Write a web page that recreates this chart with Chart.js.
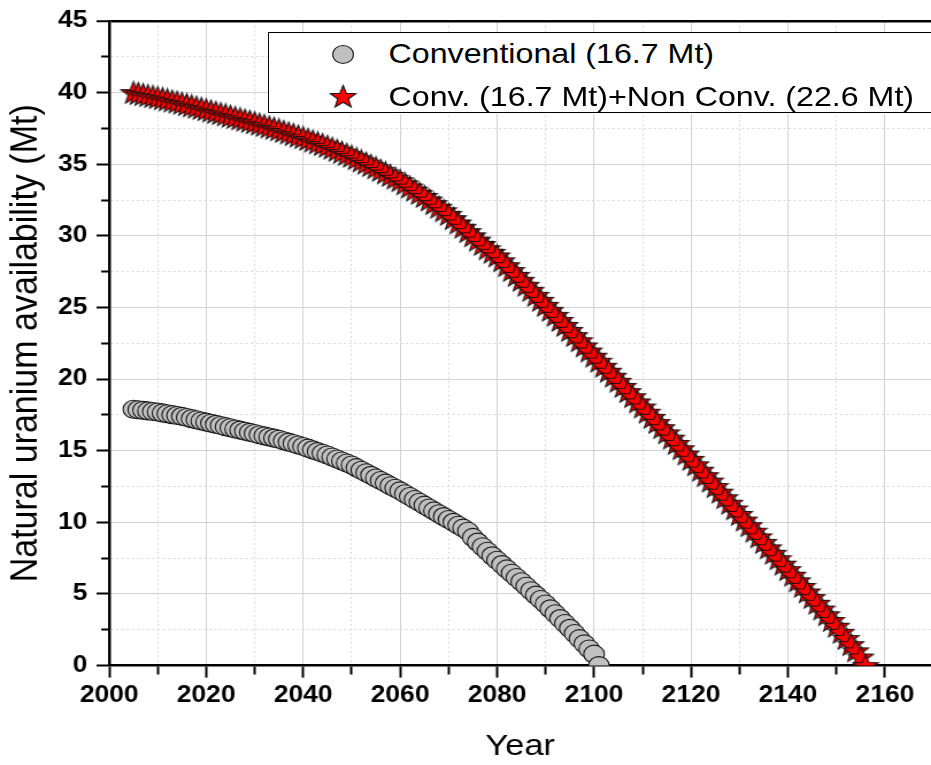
<!DOCTYPE html>
<html>
<head>
<meta charset="utf-8">
<title>Natural uranium availability</title>
<script src="https://cdn.jsdelivr.net/npm/chart.js@4.4.1/dist/chart.umd.min.js"></script>
<style>
  html, body { margin: 0; padding: 0; background: #fff; overflow: hidden; }
  /* the original figure is slightly stretched sideways, so the whole thing is drawn narrower and scaled */
  #wrap { position: relative; width: 810px; height: 765px; transform: scaleX(1.1494); transform-origin: 0 0; }
  #legend {
    position: absolute; left: 233px; top: 32px; width: 640px; height: 79px;
    border: 1.3px solid #000; background: #fff;
    font-family: "Liberation Sans", Arial, sans-serif; font-size: 28px; color: #000;
  }
  .lrow { position: absolute; left: 104px; height: 34px; line-height: 34px; white-space: nowrap; }
  .dot { position: absolute; width: 17px; height: 17px; border-radius: 50%; background: #c0c0c0; border: 1px solid #222; }
  .star { position: absolute; width: 24px; height: 24px; }
</style>
</head>
<body>
<div id="wrap">
  <canvas id="chart" width="810" height="765" style="width:810px;height:765px"></canvas>
  <div id="legend"></div>
</div>
<script>
// conventional resources, one value per year from 2005
const convStart = 2005;
const conventional = [
  17.9, 17.86, 17.82, 17.78, 17.74,
  17.7, 17.64, 17.58, 17.52, 17.46, 17.4, 17.32, 17.24, 17.16, 17.08,
  17.0, 16.92, 16.84, 16.76, 16.68, 16.6, 16.52, 16.44, 16.36, 16.28,
  16.2, 16.12, 16.04, 15.96, 15.88, 15.8, 15.7, 15.6, 15.5, 15.4,
  15.3, 15.18, 15.06, 14.94, 14.82, 14.7, 14.56, 14.42, 14.28, 14.14,
  14.0, 13.82, 13.64, 13.46, 13.28, 13.1, 12.92, 12.74, 12.56, 12.38,
  12.2, 12.0, 11.8, 11.6, 11.4, 11.2, 11.0, 10.8, 10.6, 10.4,
  10.2, 10.0, 9.8, 9.6, 9.38, 8.95, 8.62, 8.3, 7.98, 7.66,
  7.35, 7.05, 6.75, 6.45, 6.15, 5.85, 5.54, 5.23, 4.92, 4.61,
  4.3, 3.96, 3.62, 3.28, 2.94, 2.6, 2.24, 1.88, 1.52, 1.16,
  0.8, 0
];

// conventional + non conventional, one value per year from 2005
const combinedStart = 2005;
const combined = [
  40.0, 39.93, 39.86, 39.79, 39.72,
  39.65, 39.57, 39.49, 39.41, 39.33, 39.25, 39.16, 39.07, 38.98, 38.89,
  38.8, 38.71, 38.62, 38.53, 38.44, 38.35, 38.26, 38.17, 38.08, 37.99,
  37.9, 37.8, 37.7, 37.6, 37.5, 37.4, 37.29, 37.18, 37.07, 36.96,
  36.85, 36.73, 36.61, 36.49, 36.37, 36.25, 36.11, 35.97, 35.83, 35.69,
  35.55, 35.39, 35.23, 35.07, 34.91, 34.75, 34.57, 34.39, 34.21, 34.03,
  33.85, 33.63, 33.41, 33.19, 32.97, 32.75, 32.5, 32.25, 32.0, 31.75,
  31.5, 31.2, 30.9, 30.6, 30.3, 30.0, 29.7, 29.4, 29.1, 28.85,
  28.6, 28.26, 27.92, 27.58, 27.24, 26.9, 26.55, 26.2, 25.85, 25.5,
  25.15, 24.8, 24.45, 24.1, 23.75, 23.4, 23.04, 22.68, 22.32, 21.96,
  21.6, 21.25, 20.9, 20.55, 20.2, 19.85, 19.49, 19.13, 18.77, 18.41,
  18.05, 17.69, 17.33, 16.97, 16.61, 16.25, 15.88, 15.51, 15.14, 14.77,
  14.4, 14.02, 13.64, 13.26, 12.88, 12.5, 12.11, 11.72, 11.33, 10.94,
  10.55, 10.16, 9.77, 9.38, 8.99, 8.6, 8.22, 7.84, 7.46, 7.08,
  6.7, 6.31, 5.92, 5.53, 5.14, 4.75, 4.35, 3.95, 3.55, 3.15,
  2.75, 2.32, 1.89, 1.46, 1.03, 0.6, 0
];

const seriesNames = ['Conventional (16.7 Mt)', 'Conv. (16.7 Mt)+Non Conv. (22.6 Mt)'];
const xTicks = [2000, 2020, 2040, 2060, 2080, 2100, 2120, 2140, 2160];
const yTicks = [0, 5, 10, 15, 20, 25, 30, 35, 40, 45];

// major ticks plus a minor one half way between
let withMinors = (major) => {
    let out = [];
    major.forEach((v, i) => {
        out.push(v);
        if (i < major.length - 1) out.push((v + major[i + 1]) / 2);
    });
    return out;
};

// filled red star used as the point style
let starCanvas = document.createElement('canvas');
starCanvas.width = 25;
starCanvas.height = 25;
let sc = starCanvas.getContext('2d');
sc.beginPath();
for (let k = 0; k < 10; k++) {
    let r = k % 2 === 0 ? 11.8 : 4.9;
    let a = -Math.PI / 2 + k * Math.PI / 5;
    let px = 12.5 + r * Math.cos(a), py = 13.3 + r * Math.sin(a);
    k === 0 ? sc.moveTo(px, py) : sc.lineTo(px, py);
}
sc.closePath();
sc.fillStyle = '#ff0000';
sc.fill();
sc.lineWidth = 1.1;
sc.strokeStyle = '#111';
sc.stroke();

// legend
let legend = document.getElementById('legend');
legend.innerHTML = `
  <div class="dot" style="left:55px;top:12px"></div>
  <div class="lrow" style="top:4px">${seriesNames[0]}</div>
  <img class="star" style="left:52px;top:51px;width:25px;height:25px" src="${starCanvas.toDataURL()}">
  <div class="lrow" style="top:47px">${seriesNames[1]}</div>`;

const gridMajor = '#d2d2d2';
const gridMinor = '#dadada';
const tickFont = {family: '"Liberation Sans", Arial, sans-serif', size: 23, weight: 'bold'};

new Chart(document.getElementById('chart'), {
    type: 'scatter',
    data: {
        datasets: [
            {
                label: seriesNames[0],
                data: conventional.map((v, i) => ({x: convStart + i, y: v})),
                pointStyle: 'circle',
                pointRadius: 9,
                pointBackgroundColor: '#c0c0c0',
                pointBorderColor: '#1a1a1a',
                pointBorderWidth: 1.1,
                clip: 0
            },
            {
                label: seriesNames[1],
                data: combined.map((v, i) => ({x: combinedStart + i, y: v})),
                pointStyle: starCanvas,
                pointRadius: 12,
                clip: 0
            }
        ]
    },
    options: {
        responsive: false,
        animation: false,
        devicePixelRatio: 1,
        layout: {autoPadding: false, padding: {top: 21, left: 0, right: 0, bottom: 0}},
        plugins: {legend: {display: false}, tooltip: {enabled: false}},
        scales: {
            x: {
                type: 'linear',
                min: 2000,
                max: 2169.5,
                afterBuildTicks: (scale) => {
                    scale.ticks = withMinors(xTicks).map(v => ({value: v}));
                },
                afterFit: (scale) => {
                    scale.height = 99.4;
                    scale.paddingLeft = 0;
                    scale.paddingRight = 0;
                },
                ticks: {
                    autoSkip: false,
                    maxRotation: 0,
                    padding: 4,
                    color: '#000',
                    font: tickFont,
                    callback: (v) => xTicks.includes(v) ? String(v) : ''
                },
                grid: {
                    color: (c) => c.tick && xTicks.includes(c.tick.value) ? gridMajor : gridMinor,
                    lineWidth: 1,
                    tickLength: 12,
                    tickWidth: 2,
                    tickColor: '#000',
                    tickBorderDash: (c) => c.tick && !xTicks.includes(c.tick.value) ? [8, 100] : []
                },
                border: {
                    color: '#000',
                    width: 2.5,
                    dash: (c) => c.tick && !xTicks.includes(c.tick.value) ? [2, 2.5] : []
                },
                title: {
                    display: true,
                    text: 'Year',
                    color: '#000',
                    padding: {top: 0, bottom: 0},
                    font: {family: '"Liberation Sans", Arial, sans-serif', size: 30}
                }
            },
            y: {
                min: 0,
                max: 45,
                afterBuildTicks: (scale) => {
                    scale.ticks = withMinors(yTicks).map(v => ({value: v}));
                },
                afterFit: (scale) => {
                    scale.width = 95;
                    scale.paddingTop = 0;
                    scale.paddingBottom = 0;
                },
                ticks: {
                    autoSkip: false,
                    padding: 8,
                    color: '#000',
                    font: tickFont,
                    callback: (v) => yTicks.includes(v) ? String(v) : ''
                },
                grid: {
                    color: (c) => {
                        if (!c.tick) return gridMajor;
                        if (c.tick.value === 45) return '#000';
                        return yTicks.includes(c.tick.value) ? gridMajor : gridMinor;
                    },
                    lineWidth: (c) => c.tick && c.tick.value === 45 ? 2.5 : 1,
                    tickLength: 11,
                    tickWidth: 2,
                    tickColor: '#000',
                    tickBorderDash: (c) => c.tick && !yTicks.includes(c.tick.value) ? [0, 4, 7, 100] : []
                },
                border: {
                    color: '#000',
                    width: 2.5,
                    dash: (c) => c.tick && !yTicks.includes(c.tick.value) ? [2, 2.5] : []
                },
                title: {
                    display: true,
                    text: 'Natural uranium availability (Mt)',
                    color: '#000',
                    padding: {top: 2, bottom: 0},
                    font: {family: '"Liberation Sans", Arial, sans-serif', size: 34}
                }
            }
        }
    }
});
</script>
</body>
</html>
